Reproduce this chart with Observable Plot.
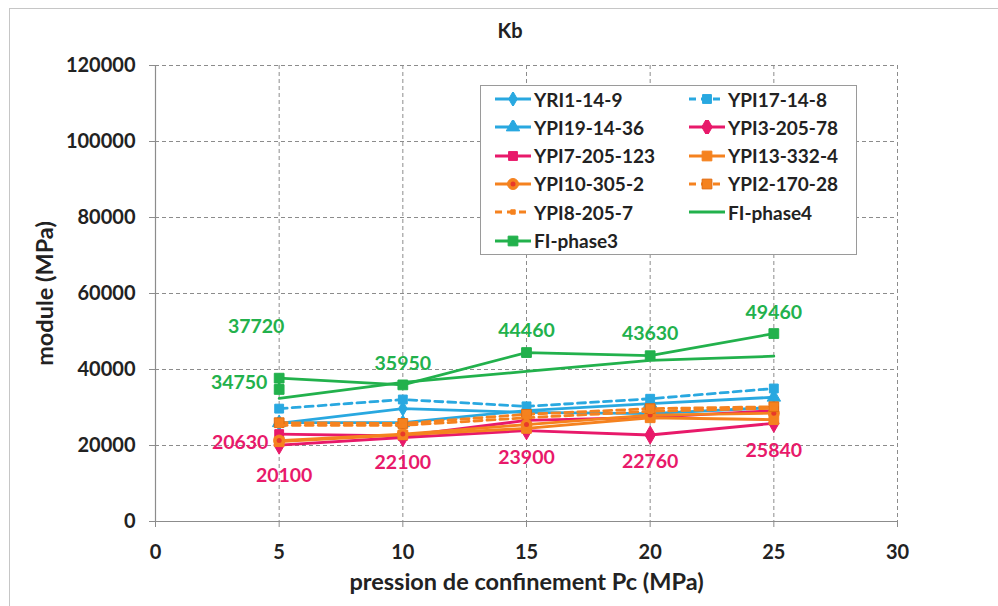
<!DOCTYPE html>
<html><head><meta charset="utf-8">
<script src="https://cdn.jsdelivr.net/npm/d3@7"></script>
<script src="https://cdn.jsdelivr.net/npm/@observablehq/plot@0.6"></script>
<style>
body{margin:0;background:#fff;font-family:Lato,sans-serif;}
#wrap{position:relative;width:998px;height:606px;overflow:hidden;}
#frame{position:absolute;left:9px;top:8px;width:1000px;height:620px;border:1.5px solid #c6c6c6;box-sizing:border-box;}
#title{position:absolute;left:510px;top:18px;transform:translateX(-50%);font-weight:bold;font-size:20px;color:#222;}
#chart{position:absolute;left:0;top:50px;}
#legend{position:absolute;left:480px;top:85px;width:377px;height:170px;background:#fff;border:1.5px solid #9a9a9a;box-sizing:border-box;}
.li{position:absolute;display:flex;align-items:center;font-weight:bold;font-size:19px;color:#222;white-space:nowrap;}
.li svg{margin-right:2px;}
</style></head>
<body><div id="wrap"><div id="frame"></div><div id="title">Kb</div><div id="chart"></div><div id="legend"></div></div>
<script>
const pressures = [5, 10, 15, 20, 25];
const xTicks = [0, 5, 10, 15, 20, 25, 30];
const yTicks = [0, 20000, 40000, 60000, 80000, 100000, 120000];

const YRI1_14_9    = [25800, 29700, 28700, 28400, 30000];
const YPI17_14_8   = [29700, 32100, 30300, 32300, 35000];
const YPI19_14_36  = [26000, 26000, 29200, 31000, 32700];
const YPI3_205_78  = [20100, 22100, 23900, 22760, 25840];
const YPI7_205_123 = [23000, 22500, 26600, 27400, 29200];
const YPI13_332_4  = [21000, 22800, 24500, 27300, 26800];
const YPI10_305_2  = [21300, 23000, 25500, 28000, 28500];
const YPI2_170_28  = [26000, 25800, 28200, 29700, 30200];
const YPI8_205_7   = [25300, 25300, 27300, 29000, 29800];
const FI_phase4    = [32400, 36600, 39500, 42400, 43500];
const FI_phase3_x  = [5, 5, 10, 15, 20, 25];
const FI_phase3    = [34750, 37720, 35950, 44460, 43630, 49460];

// data labels
const greenLabelX = [5, 5, 10, 15, 20, 25];
const greenLabelV = [37720, 34750, 35950, 44460, 43630, 49460];
const pinkLabelX  = [5, 5, 10, 15, 20, 25];
const pinkLabelV  = [20630, 20100, 22100, 23900, 22760, 25840];

const xLabel = "pression de confinement Pc (MPa)";
const yLabel = "module (MPa)";

const BLUE = "#29a8e0", PINK = "#e8196a", ORANGE = "#f5821f", GREEN = "#22b14c";

const series = [
  {name:"YRI1-14-9", xs:pressures, ys:YRI1_14_9, color:BLUE, dash:null, symbol:"diamond", r:4.5},
  {name:"YPI17-14-8", xs:pressures, ys:YPI17_14_8, color:BLUE, dash:"8,5", symbol:"square", r:5},
  {name:"YPI19-14-36", xs:pressures, ys:YPI19_14_36, color:BLUE, dash:null, symbol:"triangle", r:5},
  {name:"YPI3-205-78", xs:pressures, ys:YPI3_205_78, color:PINK, dash:null, symbol:"diamond", r:5.5},
  {name:"YPI7-205-123", xs:pressures, ys:YPI7_205_123, color:PINK, dash:null, symbol:"square", r:5},
  {name:"YPI13-332-4", xs:pressures, ys:YPI13_332_4, color:ORANGE, dash:null, symbol:"square", r:5.5},
  {name:"YPI10-305-2", xs:pressures, ys:YPI10_305_2, color:ORANGE, dash:null, symbol:"circle", r:5.5, inner:"#e8392a"},
  {name:"YPI2-170-28", xs:pressures, ys:YPI2_170_28, color:ORANGE, dash:"8,5", symbol:"square", r:5.5, stroke:"#e06b10"},
  {name:"YPI8-205-7", xs:pressures, ys:YPI8_205_7, color:ORANGE, dash:"8,5", symbol:"square", r:2.5},
  {name:"FI-phase4", xs:pressures, ys:FI_phase4, color:GREEN, dash:null, symbol:null},
  {name:"FI-phase3", xs:FI_phase3_x, ys:FI_phase3, color:GREEN, dash:null, symbol:"square", r:5.5}
];

const gridStyle = {stroke:"#8c8c8c", strokeOpacity:1, strokeWidth:1, strokeDasharray:"4,3"};
const marks = [
  Plot.ruleX(xTicks.slice(1), {x:d=>d, ...gridStyle}),
  Plot.ruleY(yTicks.slice(1), {y:d=>d, ...gridStyle}),
  Plot.ruleY([0], {stroke:"#8c8c8c", strokeWidth:1.2}),
  Plot.ruleX([0], {stroke:"#8c8c8c", strokeWidth:1.2}),
  Plot.axisX(xTicks, {tickSize:6, tickPadding:17, stroke:"#8c8c8c", fill:"#222", fontSize:20, fontWeight:"bold", label:null}),
  Plot.axisY(yTicks, {tickSize:6, tickPadding:14, stroke:"#8c8c8c", fill:"#222", fontSize:20, fontWeight:"bold",
    tickFormat:d3.format("d"), label:null}),
  Plot.text([xLabel], {text:d=>d, frameAnchor:"bottom", dy:61, textAnchor:"middle", lineAnchor:"middle", fontSize:23.5, fontWeight:"bold", fill:"#222"}),
  Plot.text([yLabel], {text:d=>d, frameAnchor:"left", dx:-110, rotate:-90, textAnchor:"middle", lineAnchor:"middle", fontSize:23.5, fontWeight:"bold", fill:"#222"})
];

for (const s of series) {
  const data = s.xs.map((x, i) => ({x, y: s.ys[i]}));
  marks.push(Plot.line(data, {x:"x", y:"y", stroke:s.color, strokeWidth:2.8, strokeDasharray:s.dash || undefined}));
  if (s.symbol) {
    marks.push(Plot.dot(data, {x:"x", y:"y", symbol:s.symbol, r:s.r, fill:s.color, stroke:s.stroke || s.color, strokeWidth:1}));
    if (s.inner) marks.push(Plot.dot(data, {x:"x", y:"y", r:2.5, fill:s.inner, stroke:"none"}));
  }
}

const gOff = [[-23,-51],[-40,-7],[0,-21],[0,-22],[0,-22],[0,-21]];
const pOff = [[-39,0],[5,31],[0,25],[0,27],[0,27],[0,27]];
greenLabelV.forEach((v,i)=>marks.push(Plot.text([v], {x:()=>greenLabelX[i], y:d=>d, text:d=>String(d), dx:gOff[i][0], dy:gOff[i][1], fill:GREEN, fontSize:19.5, fontWeight:"bold"})));
pinkLabelV.forEach((v,i)=>marks.push(Plot.text([v], {x:()=>pinkLabelX[i], y:d=>d, text:d=>String(d), dx:pOff[i][0], dy:pOff[i][1], fill:PINK, fontSize:19.5, fontWeight:"bold"})));

const chart = Plot.plot({
  width:998, height:556,
  marginLeft:155, marginRight:101, marginTop:15, marginBottom:85,
  style:{fontFamily:"Lato,sans-serif", fontSize:"20px", fontWeight:"bold", color:"#222", background:"transparent", overflow:"visible"},
  x:{domain:[0,30]},
  y:{domain:[0,120000]},
  marks
});
document.getElementById("chart").appendChild(chart);

// legend
const leg = document.getElementById("legend");
const colX = [13, 207];
series.forEach((s, i) => {
  const col = i % 2, row = Math.floor(i / 2);
  const div = document.createElement("div");
  div.className = "li";
  div.style.left = colX[col] + "px";
  div.style.top = (1 + row * 28.3) + "px";
  div.style.height = "24px";
  const ns = "http://www.w3.org/2000/svg";
  const svg = document.createElementNS(ns, "svg");
  svg.setAttribute("width", 38); svg.setAttribute("height", 14);
  const line = document.createElementNS(ns, "line");
  line.setAttribute("x1", 1); line.setAttribute("x2", 37); line.setAttribute("y1", 7); line.setAttribute("y2", 7);
  line.setAttribute("stroke", s.color); line.setAttribute("stroke-width", 2.8);
  if (s.dash) line.setAttribute("stroke-dasharray", "7,5");
  svg.appendChild(line);
  if (s.symbol) {
    const p = document.createElementNS(ns, "path");
    const sym = {diamond:d3.symbolDiamond, square:d3.symbolSquare, triangle:d3.symbolTriangle, circle:d3.symbolCircle}[s.symbol];
    p.setAttribute("d", d3.symbol(sym, Math.PI * s.r * s.r)());
    p.setAttribute("transform", "translate(19,7)");
    p.setAttribute("fill", s.color); p.setAttribute("stroke", s.stroke || s.color);
    svg.appendChild(p);
    if (s.inner) {
      const c = document.createElementNS(ns, "circle");
      c.setAttribute("cx", 19); c.setAttribute("cy", 7); c.setAttribute("r", 2.5); c.setAttribute("fill", s.inner);
      svg.appendChild(c);
    }
  }
  div.appendChild(svg);
  const t = document.createElement("span"); t.textContent = s.name;
  div.appendChild(t);
  leg.appendChild(div);
});
</script></body></html>
